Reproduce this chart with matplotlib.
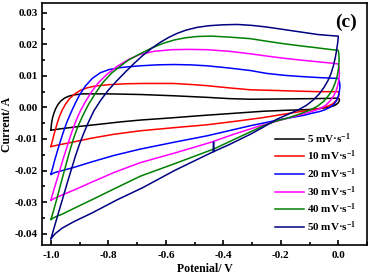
import matplotlib
matplotlib.use("Agg")
import matplotlib.pyplot as plt
from matplotlib.ticker import MultipleLocator, FuncFormatter

plt.rcParams['font.family'] = ['Liberation Serif', 'DejaVu Serif']
plt.rcParams['font.weight'] = 'bold'
plt.rcParams['mathtext.fontset'] = 'custom'
plt.rcParams['mathtext.rm'] = 'Liberation Serif:bold'
plt.rcParams['mathtext.bf'] = 'Liberation Serif:bold'
plt.rcParams['mathtext.it'] = 'Liberation Serif:bold'

labels = ["5 mV\u00b7s$^{-1}$", "10 mV\u00b7s$^{-1}$", "20 mV\u00b7s$^{-1}$",
          "30 mV\u00b7s$^{-1}$", "40 mV\u00b7s$^{-1}$", "50 mV\u00b7s$^{-1}$"]
colors = ["#000000", "#FF0000", "#0000FF", "#FF00FF", "#008000", "#000080"]

# 5 mV/s
x5 = [-1.0, -0.999, -0.997, -0.994, -0.989, -0.983, -0.975, -0.965, -0.952, -0.937, -0.918, -0.89, -0.80, -0.689,
      -0.573, -0.457, -0.38, -0.306, -0.19, -0.074, -0.02, 0.0,
      0.004, 0.003, 0.0, -0.006, -0.016, -0.03, -0.051, -0.08, -0.109, -0.18, -0.26, -0.37, -0.48, -0.58, -0.689,
      -0.76, -0.828, -0.90, -0.96, -1.0]
y5 = [-0.0072, -0.0060, -0.0046, -0.0032, -0.0017, -0.0003, 0.0010, 0.0021, 0.0030, 0.0036, 0.0040, 0.0043, 0.0043, 0.0041,
      0.0037, 0.0032, 0.0028, 0.0026, 0.0027, 0.0028, 0.0029, 0.0030,
      0.0026, 0.0020, 0.0015, 0.0010, 0.0005, 0.0001, -0.0002, -0.0005, -0.0007, -0.0009, -0.0012, -0.0019, -0.0026, -0.0033, -0.0040,
      -0.0046, -0.0053, -0.0060, -0.0067, -0.0072]
# 10 mV/s
x10 = [-1.0, -0.996, -0.991, -0.985, -0.978, -0.970, -0.960, -0.948, -0.935, -0.918, -0.898, -0.875, -0.845, -0.80,
       -0.74, -0.68, -0.573, -0.50, -0.457, -0.38, -0.306, -0.19, -0.074, 0.0,
       0.003, 0.002, -0.003, -0.010, -0.020, -0.034, -0.05, -0.074, -0.1, -0.132, -0.2, -0.26, -0.35, -0.457, -0.57,
       -0.689, -0.78, -0.856, -0.93, -0.975, -1.0]
y10 = [-0.0124, -0.0110, -0.0092, -0.0072, -0.0050, -0.0028, -0.0007, 0.0012, 0.0028, 0.0042, 0.0054, 0.0062, 0.0068, 0.0072,
       0.0075, 0.0076, 0.0076, 0.0072, 0.0069, 0.0062, 0.0056, 0.0053, 0.0050, 0.0050,
       0.0044, 0.0036, 0.0027, 0.0019, 0.0011, 0.0005, 0.0, -0.0005, -0.0009, -0.0013, -0.0023, -0.0032, -0.0043, -0.0055, -0.0064,
       -0.0074, -0.0085, -0.0097, -0.0111, -0.0119, -0.0124]
# 20 mV/s
x20 = [-1.0, -0.994, -0.987, -0.978, -0.968, -0.957, -0.945, -0.931, -0.916, -0.900, -0.880, -0.856, -0.828, -0.798,
       -0.760, -0.728, -0.689, -0.630, -0.573, -0.515, -0.457, -0.38, -0.306, -0.250, -0.190, -0.130, -0.074, -0.030, 0.0,
       0.004, 0.006, 0.004, 0.0, -0.006, -0.015, -0.028, -0.045, -0.065, -0.09, -0.12, -0.2, -0.306, -0.457, -0.57,
       -0.689, -0.78, -0.856, -0.92, -0.96, -0.985, -1.0]
y20 = [-0.0212, -0.0192, -0.0168, -0.0140, -0.0110, -0.0079, -0.0048, -0.0018, 0.0012, 0.0040, 0.0068, 0.0092, 0.0110, 0.0120,
       0.0126, 0.0129, 0.0132, 0.0135, 0.0136, 0.0135, 0.0132, 0.0125, 0.0117, 0.0108, 0.0102, 0.0098, 0.0095, 0.0093, 0.0092,
       0.0082, 0.0068, 0.0052, 0.0036, 0.0022, 0.0010, 0.0001, -0.0007, -0.0013, -0.0018, -0.0025, -0.0038, -0.0058, -0.0090, -0.0110,
       -0.0132, -0.0152, -0.0172, -0.0190, -0.0200, -0.0206, -0.0212]
# 30 mV/s
x30 = [-1.0, -0.992, -0.982, -0.970, -0.957, -0.943, -0.928, -0.913, -0.898, -0.880, -0.860, -0.835, -0.805, -0.770,
       -0.730, -0.690, -0.640, -0.580, -0.520, -0.457, -0.38, -0.306, -0.250, -0.190, -0.130, -0.074, -0.030, 0.0,
       0.003, 0.004, 0.002, -0.002, -0.008, -0.016, -0.028, -0.045, -0.065, -0.086, -0.115, -0.144, -0.2, -0.271, -0.364,
       -0.445, -0.56, -0.689, -0.78, -0.856, -0.92, -0.96, -0.985, -1.0]
y30 = [-0.0294, -0.0268, -0.0238, -0.0202, -0.0162, -0.0122, -0.0080, -0.0043, -0.0012, 0.0018, 0.0048, 0.0078, 0.0105, 0.0130,
       0.0152, 0.0168, 0.0178, 0.0183, 0.0184, 0.0183, 0.0178, 0.0170, 0.0163, 0.0156, 0.0150, 0.0145, 0.0141, 0.0138,
       0.0125, 0.0106, 0.0088, 0.0069, 0.0052, 0.0037, 0.0021, 0.0006, -0.0004, -0.0011, -0.0019, -0.0026, -0.0040, -0.0058, -0.0085,
       -0.0111, -0.0142, -0.0175, -0.0206, -0.0236, -0.0262, -0.0277, -0.0287, -0.0294]
# 40 mV/s
x40 = [-1.0, -0.990, -0.978, -0.965, -0.950, -0.935, -0.920, -0.905, -0.890, -0.870, -0.845, -0.820, -0.790, -0.760,
       -0.730, -0.690, -0.650, -0.610, -0.570, -0.530, -0.490, -0.440, -0.380, -0.306, -0.250, -0.190, -0.130, -0.074, -0.030, 0.0,
       0.002, 0.003, 0.001, -0.003, -0.010, -0.019, -0.032, -0.050, -0.074, -0.100, -0.135, -0.178, -0.22, -0.26, -0.352,
       -0.434, -0.56, -0.689, -0.78, -0.856, -0.92, -0.96, -0.985, -1.0]
y40 = [-0.0355, -0.0325, -0.0285, -0.0240, -0.0190, -0.0140, -0.0095, -0.0058, -0.0028, 0.0008, 0.0045, 0.0078, 0.0108, 0.0130,
       0.0150, 0.0170, 0.0188, 0.0203, 0.0214, 0.0221, 0.0225, 0.0226, 0.0223, 0.0218, 0.0210, 0.0202, 0.0195, 0.0189, 0.0184, 0.0181,
       0.0170, 0.0150, 0.0125, 0.0102, 0.0080, 0.0059, 0.0040, 0.0020, 0.0003, -0.0009, -0.0021, -0.0034, -0.0044, -0.0058, -0.0097,
       -0.0132, -0.0175, -0.0218, -0.0258, -0.0292, -0.0320, -0.0338, -0.0347, -0.0355]
# 50 mV/s
x50 = [-1.0, -0.990, -0.975, -0.960, -0.945, -0.930, -0.915, -0.900, -0.885, -0.870, -0.850, -0.825, -0.800, -0.770,
       -0.740, -0.710, -0.680, -0.650, -0.620, -0.590, -0.560, -0.530, -0.490, -0.450, -0.400, -0.350, -0.300, -0.250,
       -0.190, -0.130, -0.070, -0.030, 0.0,
       0.0, -0.002, -0.006, -0.011, -0.017, -0.025, -0.036, -0.050, -0.067, -0.088, -0.112, -0.140, -0.175, -0.213, -0.26,
       -0.306, -0.38, -0.434, -0.434, -0.434, -0.457, -0.57, -0.68, -0.77, -0.856, -0.92, -0.96, -0.985, -1.0]
y50 = [-0.0416, -0.0385, -0.0338, -0.0292, -0.0245, -0.0200, -0.0155, -0.0115, -0.0080, -0.0048, -0.0010, 0.0025, 0.0055, 0.0085,
       0.0113, 0.0140, 0.0165, 0.0187, 0.0206, 0.0222, 0.0235, 0.0245, 0.0254, 0.0259, 0.0262, 0.0263, 0.0260, 0.0255,
       0.0247, 0.0239, 0.0231, 0.0228, 0.0226,
       0.0222, 0.0205, 0.0180, 0.0155, 0.0132, 0.0108, 0.0085, 0.0063, 0.0042, 0.0023, 0.0006, -0.0008, -0.0022, -0.0037, -0.0062,
       -0.0085, -0.0118, -0.0140, -0.0110, -0.0140, -0.0150, -0.0200, -0.0254, -0.0293, -0.0334, -0.0362, -0.0382, -0.0400, -0.0416]

xs = [x5, x10, x20, x30, x40, x50]
ys = [y5, y10, y20, y30, y40, y50]

fig = plt.figure(figsize=(3.69, 2.76), dpi=100)
ax = fig.add_axes([0.1138, 0.1123, 0.8808, 0.8768])

for x, y, c, l in zip(xs, ys, colors, labels):
    ax.plot(x, y, color=c, lw=1.1, label=l, solid_joinstyle='round')

ax.set_xlim(-1.031, 0.10)
ax.set_ylim(-0.0436, 0.0331)
ax.xaxis.set_major_locator(MultipleLocator(0.2))
ax.xaxis.set_minor_locator(MultipleLocator(0.1))
ax.yaxis.set_major_locator(MultipleLocator(0.01))
ax.yaxis.set_minor_locator(MultipleLocator(0.005))
ax.xaxis.set_major_formatter(FuncFormatter(lambda v, p: ("%.1f" % v) if abs(v) > 1e-9 else "0.0"))
ax.yaxis.set_major_formatter(FuncFormatter(lambda v, p: ("%.2f" % v) if abs(v) > 1e-9 else "0.00"))
ax.tick_params(which='both', direction='in', top=False, right=False, labelsize=8, width=1.2)
ax.tick_params(axis='x', pad=4.5)
ax.tick_params(axis='y', pad=3)
ax.tick_params(which='major', length=3.5)
ax.tick_params(which='minor', length=2)
for lab in ax.get_xticklabels() + ax.get_yticklabels():
    lab.set_fontweight('bold')
for s in ax.spines.values():
    s.set_linewidth(1.2)

ax.set_xlabel("Potenial/ V", fontsize=8.5, fontweight='bold', labelpad=2)
ax.set_ylabel("Current/ A", fontsize=8.5, fontweight='bold', labelpad=1)
ax.text(0.97, 0.955, "(c)", transform=ax.transAxes, ha='right', va='top', fontsize=14, fontweight='bold')

leg = ax.legend(loc='lower left', bbox_to_anchor=(0.717, 0.045), frameon=False, fontsize=8,
                handlelength=2.6, handletextpad=0.3, labelspacing=0.28, borderaxespad=0.0, borderpad=0.0)

fig.savefig("out.png", dpi=100)
